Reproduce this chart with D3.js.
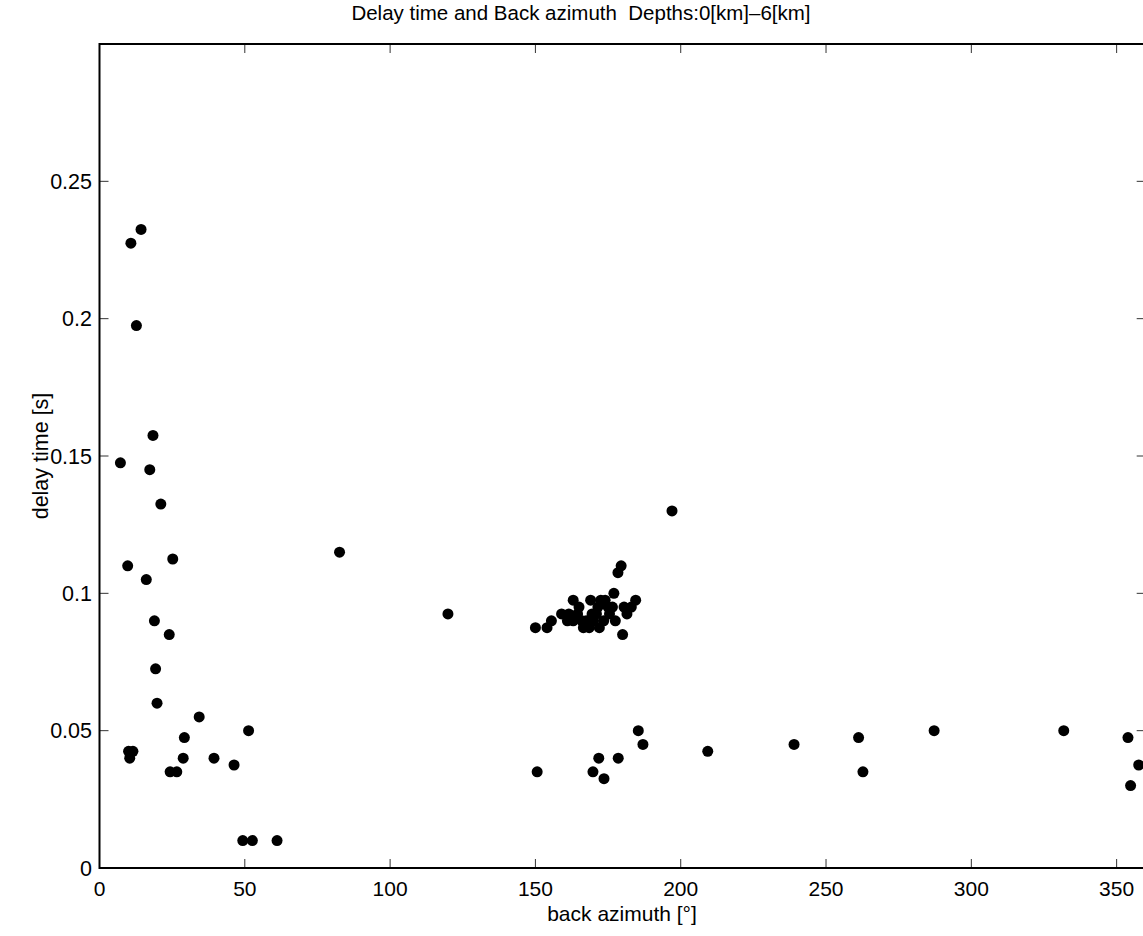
<!DOCTYPE html>
<html>
<head>
<meta charset="utf-8">
<script src="https://cdn.jsdelivr.net/npm/d3@7"></script>
<style>
  body { margin: 0; background: #fff; }
  svg text { font-family: "Liberation Sans", Arial, Helvetica, sans-serif; fill: #000; white-space: pre; }
</style>
</head>
<body>
<div class="container"></div>
<script>
// back azimuth [deg] and delay time [s]
const azimuth = [
  7.2, 10.8, 14.3, 12.7, 18.4, 17.3, 21.1,
  9.7, 25.2, 16.1, 18.9, 24.0, 19.3, 19.8, 34.3, 51.3, 29.2,
  10.0, 11.5, 10.4, 28.8, 39.4, 46.3, 24.3, 26.6, 49.3, 52.6, 61.1,
  82.6, 119.9, 150.6,
  150, 154, 155.5, 159, 161.5, 161, 163, 163, 164.5, 165, 166, 166.5, 167.5, 168.5,
  169, 169.5, 170, 171, 171.5, 172, 172.5, 173.5, 174, 175, 175.5, 176.5, 177,
  177.5, 178.4, 179.5, 180, 180.5, 181.5, 183, 184.5,
  197.0, 169.8, 171.8, 178.5, 173.6, 185.4, 187.0, 209.3, 239.0, 261.2, 262.7,
  287.2, 331.8, 353.9, 357.6, 354.8
];
const delay = [
  0.1475, 0.2275, 0.2325, 0.1975, 0.1575, 0.145, 0.1325,
  0.11, 0.1125, 0.105, 0.09, 0.085, 0.0725, 0.06, 0.055, 0.05, 0.0475,
  0.0425, 0.0425, 0.04, 0.04, 0.04, 0.0375, 0.035, 0.035, 0.01, 0.01, 0.01,
  0.115, 0.0925, 0.035,
  0.0875, 0.0875, 0.09, 0.0925, 0.0925, 0.09, 0.09, 0.0975, 0.0925, 0.095, 0.09, 0.0875, 0.09, 0.0875,
  0.0975, 0.0925, 0.09, 0.0925, 0.095, 0.0875, 0.0975, 0.09, 0.0975, 0.095, 0.0925, 0.095, 0.1,
  0.09, 0.1075, 0.11, 0.085, 0.095, 0.0925, 0.095, 0.0975,
  0.13, 0.035, 0.04, 0.04, 0.0325, 0.05, 0.045, 0.0425, 0.045, 0.0475, 0.035,
  0.05, 0.05, 0.0475, 0.0375, 0.03
];
const xTicks = [0, 50, 100, 150, 200, 250, 300, 350];
const yTicks = [0, 0.05, 0.1, 0.15, 0.2, 0.25];
const yTickLabels = ["0", "0.05", "0.1", "0.15", "0.2", "0.25"];

const width = 1143;
const height = 936;
const pLeft = 99.5, pRight = 1145.7, pTop = 44, pBottom = 868;
const tickLen = 9;

const svg = d3.select("div.container")
    .append("svg")
    .attr("width", width)
    .attr("height", height);

const x = d3.scaleLinear().domain([0, 360]).range([pLeft, pRight]);
const y = d3.scaleLinear().domain([0, 0.3]).range([pBottom, pTop]);

// ticks on all four sides, pointing inwards
const ticks = svg.append("g").attr("stroke", "#333").attr("stroke-width", 1);
xTicks.forEach(function(t) {
    ticks.append("line").attr("x1", x(t)).attr("x2", x(t)).attr("y1", pBottom).attr("y2", pBottom - tickLen);
    ticks.append("line").attr("x1", x(t)).attr("x2", x(t)).attr("y1", pTop).attr("y2", pTop + tickLen);
});
yTicks.forEach(function(t) {
    ticks.append("line").attr("x1", pLeft).attr("x2", pLeft + tickLen).attr("y1", y(t)).attr("y2", y(t));
    ticks.append("line").attr("x1", pRight).attr("x2", pRight - tickLen).attr("y1", y(t)).attr("y2", y(t));
});

svg.append("rect")
    .attr("x", pLeft).attr("y", pTop)
    .attr("width", pRight - pLeft).attr("height", pBottom - pTop)
    .attr("fill", "none").attr("stroke", "#000").attr("stroke-width", 2);

svg.append("g")
    .selectAll("text")
    .data(xTicks)
    .enter()
    .append("text")
    .attr("x", function(d) {return x(d);})
    .attr("y", 896)
    .attr("text-anchor", "middle")
    .attr("font-size", 21)
    .text(function(d) {return d;});

svg.append("g")
    .selectAll("text")
    .data(yTicks)
    .enter()
    .append("text")
    .attr("x", 92)
    .attr("y", function(d) {return y(d) + 7.5;})
    .attr("text-anchor", "end")
    .attr("font-size", 21.5)
    .text(function(d, i) {return yTickLabels[i];});

svg.append("g")
    .selectAll("circle")
    .data(azimuth.map(function(a, i) {return [a, delay[i]];}))
    .enter()
    .append("circle")
    .attr("cx", function(d) {return x(d[0]);})
    .attr("cy", function(d) {return y(d[1]);})
    .attr("r", 5.5)
    .attr("fill", "#000");

svg.append("text")
    .attr("x", 581).attr("y", 20)
    .attr("text-anchor", "middle")
    .attr("font-size", 20.5)
    .text("Delay time and Back azimuth  Depths:0[km]\u20136[km]");

svg.append("text")
    .attr("x", 622).attr("y", 921)
    .attr("text-anchor", "middle")
    .attr("font-size", 21)
    .text("back azimuth [\u00b0]");

svg.append("text")
    .attr("transform", "translate(48," + ((pTop + pBottom) / 2) + ") rotate(-90)")
    .attr("text-anchor", "middle")
    .attr("font-size", 21.5)
    .text("delay time [s]");
</script>
</body>
</html>
